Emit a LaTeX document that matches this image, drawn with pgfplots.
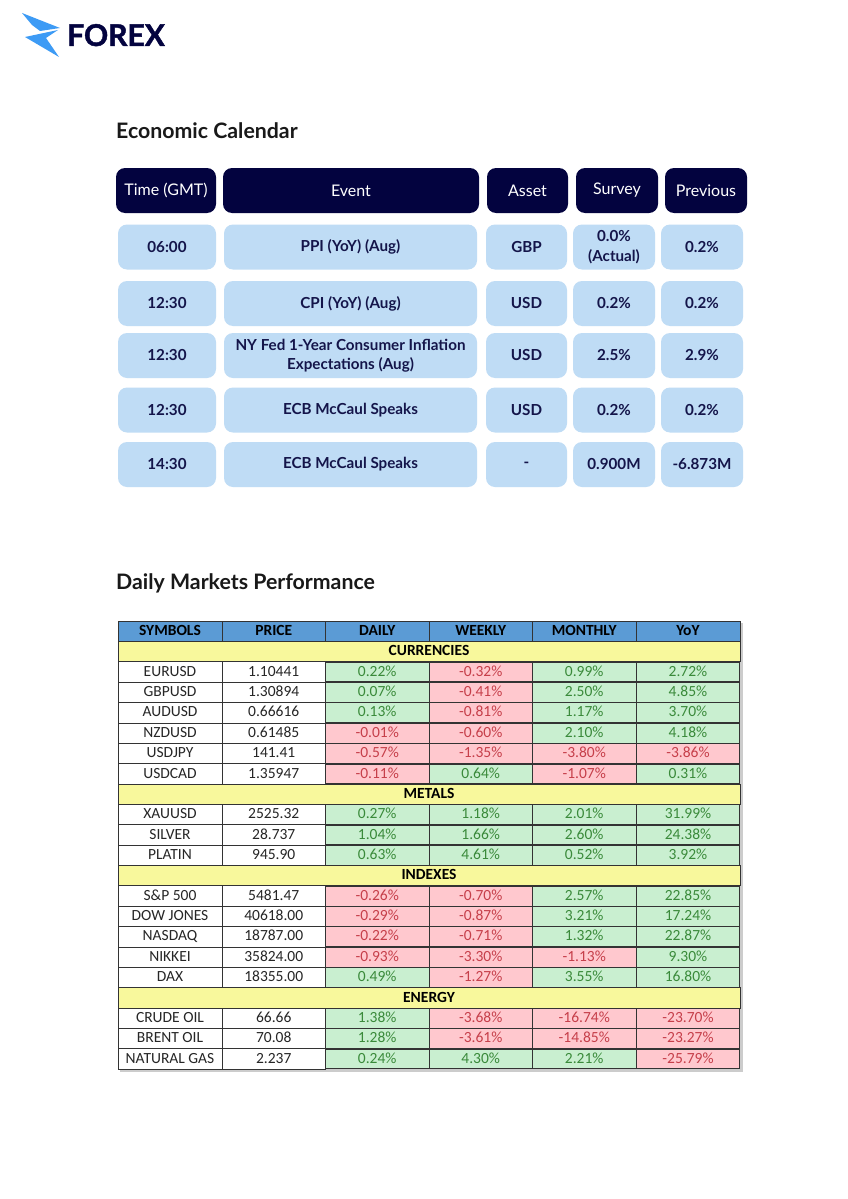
\documentclass[border=0pt]{standalone}
\usepackage{pgfplots}
\pgfplotsset{compat=1.18}
\usepackage{pgfplotstable}
\usepackage{fontspec}
\setmainfont{Lato}
\newfontfamily\calib{Carlito}
\newfontfamily\logofont[BoldFeatures={FakeBold=1.5}]{Lato}
\definecolor{navy}{HTML}{03033F}
\definecolor{navytext}{HTML}{14154A}
\definecolor{lblue}{HTML}{BFDCF5}
\definecolor{hblue}{HTML}{5B9BD5}
\definecolor{ysec}{HTML}{F8F89C}
\definecolor{gfill}{HTML}{C9EFD0}
\definecolor{gtext}{HTML}{3A8A3A}
\definecolor{rfill}{HTML}{FFC8CE}
\definecolor{rtext}{HTML}{C63F4A}
\definecolor{gridc}{HTML}{333333}
\definecolor{logoblue}{HTML}{3D9BF5}
\definecolor{cellt}{HTML}{262626}
\protected\def\SurveyA{0.0\%\\(Actual)}
\protected\def\NYFed{NY Fed 1-Year Consumer Inflation\\Expectations (Aug)}
% performance cell: coloured by sign
\setlength{\fboxsep}{0pt}
\setlength{\fboxrule}{0.6pt}
\protected\def\pcell#1{\ifdim#1pt<0pt
  \fcolorbox{gridc}{rfill}{\makebox[102.5pt][c]{\rule[-5.3pt]{0pt}{19.16pt}\textcolor{rtext}{#1\%}}}%
  \else
  \fcolorbox{gridc}{gfill}{\makebox[102.5pt][c]{\rule[-5.3pt]{0pt}{19.16pt}\textcolor{gtext}{#1\%}}}%
  \fi}

% Economic calendar, one table per column
\pgfplotstableread[col sep=comma]{
y,t
247,06:00
303.5,12:30
355.5,12:30
410,12:30
464.5,14:30
}\calT
\pgfplotstableread[col sep=comma]{
y,t
247,PPI (YoY) (Aug)
303.5,CPI (YoY) (Aug)
355.5,\NYFed
410,ECB McCaul Speaks
464.5,ECB McCaul Speaks
}\calE
\pgfplotstableread[col sep=comma]{
y,t
247,GBP
303.5,USD
355.5,USD
410,USD
464.5,-
}\calA
\pgfplotstableread[col sep=comma]{
y,t
247,\SurveyA
303.5,0.2\%
355.5,2.5\%
410,0.2\%
464.5,0.900M
}\calS
\pgfplotstableread[col sep=comma]{
y,t
247,0.2\%
303.5,0.2\%
355.5,2.9\%
410,0.2\%
464.5,-6.873M
}\calP

\pgfplotstableread[col sep=comma]{
x,t
170,SYMBOLS
273.75,PRICE
377.25,DAILY
480.75,WEEKLY
584.25,MONTHLY
688,YoY
}\perfhead

\pgfplotstableread[col sep=comma]{
r,t
1,CURRENCIES
8,METALS
12,INDEXES
18,ENERGY
}\perfsec

\pgfplotstableread[col sep=comma]{
r,s,p,d,w,m,yy
2,EURUSD,1.10441,0.22,-0.32,0.99,2.72
3,GBPUSD,1.30894,0.07,-0.41,2.50,4.85
4,AUDUSD,0.66616,0.13,-0.81,1.17,3.70
5,NZDUSD,0.61485,-0.01,-0.60,2.10,4.18
6,USDJPY,141.41,-0.57,-1.35,-3.80,-3.86
7,USDCAD,1.35947,-0.11,0.64,-1.07,0.31
9,XAUUSD,2525.32,0.27,1.18,2.01,31.99
10,SILVER,28.737,1.04,1.66,2.60,24.38
11,PLATIN,945.90,0.63,4.61,0.52,3.92
13,S\&P 500,5481.47,-0.26,-0.70,2.57,22.85
14,DOW JONES,40618.00,-0.29,-0.87,3.21,17.24
15,NASDAQ,18787.00,-0.22,-0.71,1.32,22.87
16,NIKKEI,35824.00,-0.93,-3.30,-1.13,9.30
17,DAX,18355.00,0.49,-1.27,3.55,16.80
19,CRUDE OIL,66.66,1.38,-3.68,-16.74,-23.70
20,BRENT OIL,70.08,1.28,-3.61,-14.85,-23.27
21,NATURAL GAS,2.237,0.24,4.30,2.21,-25.79
}\perf

\pgfplotsset{
  calhead/.style={draw=none, mark=none, nodes near coords, point meta=explicit symbolic,
    every node near coord/.append style={anchor=center, inner sep=0pt, fill=navy, text=white,
      rounded corners=9pt, minimum width=#1, minimum height=45pt,
      font=\fontsize{16}{18}\selectfont}},
  caldata/.style={draw=none, mark=none, nodes near coords, point meta=explicit symbolic,
    every node near coord/.append style={anchor=center, inner sep=0pt, fill=lblue, text=navytext,
      rounded corners=9pt, minimum width=#1, minimum height=45pt, align=center,
      font=\bfseries\fontsize{15.2}{19.5}\selectfont}},
  tcell/.style={draw=none, mark=none, nodes near coords, point meta=explicit symbolic,
    every node near coord/.append style={anchor=center, inner sep=0pt, minimum height=20.36pt,
      text height=14.46pt, text depth=5.9pt,
      draw=gridc, line width=0.6pt, font=\calib\fontsize{15.5}{17}\selectfont}},
  perfcell/.style={draw=none, mark=none, point meta=explicit symbolic,
    nodes near coords={\pcell{\pgfplotspointmeta}},
    every node near coord/.append style={anchor=center, inner sep=0pt, font=\calib\fontsize{15.5}{17}\selectfont}},
}

\begin{document}
\begin{tikzpicture}
\useasboundingbox (0,0) rectangle (848pt,1199pt);
\fill[white] (0,0) rectangle (848pt,1199pt);
\begin{axis}[
  at={(0,0)}, anchor=south west,
  scale only axis, width=848pt, height=1199pt,
  xmin=0, xmax=848, ymin=0, ymax=1199, y dir=reverse,
  hide axis, clip=false,
]
% logo
\fill[logoblue] (axis cs:22,13) -- (axis cs:60,28) -- (axis cs:40,31) -- (axis cs:32,25) -- cycle;
\fill[logoblue] (axis cs:25,37) -- (axis cs:58,30) -- (axis cs:46,38) -- (axis cs:59,57) -- cycle;
\node[anchor=base west, text=navy, font=\logofont\bfseries\fontsize{30}{32}\selectfont, inner sep=0pt] at (axis cs:67,46) {FOREX};
% titles
\node[anchor=base west, text=black!90, font=\bfseries\fontsize{21.3}{24}\selectfont, inner sep=0pt] at (axis cs:116,139) {Economic Calendar};
\node[anchor=base west, text=black!90, font=\bfseries\fontsize{21.3}{24}\selectfont, inner sep=0pt] at (axis cs:116,589) {Daily Markets Performance};

% calendar header
\addplot[calhead=100pt] coordinates {(166,190.5) [Time (GMT)]};
\addplot[calhead=256pt] coordinates {(351,190.5) [Event]};
\addplot[calhead=81pt] coordinates {(527.5,190.5) [Asset]};
\addplot[calhead=82pt] coordinates {(617,190.5) [Survey]};
\addplot[calhead=82pt] coordinates {(706,190.5) [Previous]};
% calendar data
\addplot[caldata=98pt] table[x expr=167, y=y, meta=t]{\calT};
\addplot[caldata=253pt] table[x expr=350.5, y=y, meta=t]{\calE};
\addplot[caldata=81pt] table[x expr=526.5, y=y, meta=t]{\calA};
\addplot[caldata=82pt] table[x expr=614, y=y, meta=t]{\calS};
\addplot[caldata=82pt] table[x expr=702, y=y, meta=t]{\calP};

% table shadow
\fill[black!20] (axis cs:120,623) rectangle (axis cs:742.5,1071.5);
% performance table
\addplot[tcell, every node near coord/.append style={fill=hblue, text=black, minimum width=103.7pt, font=\calib\bfseries\fontsize{15.5}{17}\selectfont}]
  table[x=x, y expr=631.18, meta=t]{\perfhead};
\addplot[tcell, every node near coord/.append style={fill=ysec, text=black, minimum width=622pt, font=\calib\bfseries\fontsize{15.5}{17}\selectfont}]
  table[x expr=429, y expr=621+20.364*(\thisrow{r}+0.5), meta=t]{\perfsec};
\addplot[tcell, every node near coord/.append style={fill=white, text=cellt, minimum width=103.7pt}]
  table[x expr=170, y expr=621+20.364*(\thisrow{r}+0.5), meta=s]{\perf};
\addplot[tcell, every node near coord/.append style={fill=white, text=cellt, minimum width=103.7pt}]
  table[x expr=273.75, y expr=621+20.364*(\thisrow{r}+0.5), meta=p]{\perf};
\addplot[perfcell] table[x expr=377.25, y expr=621+20.364*(\thisrow{r}+0.5), meta=d]{\perf};
\addplot[perfcell] table[x expr=480.75, y expr=621+20.364*(\thisrow{r}+0.5), meta=w]{\perf};
\addplot[perfcell] table[x expr=584.25, y expr=621+20.364*(\thisrow{r}+0.5), meta=m]{\perf};
\addplot[perfcell] table[x expr=688, y expr=621+20.364*(\thisrow{r}+0.5), meta=yy]{\perf};

% faint watermark
\fill[logoblue, opacity=0.08] (axis cs:235,712) -- (axis cs:600,840) -- (axis cs:430,858) -- (axis cs:340,800) -- cycle;
\fill[teal, opacity=0.07] (axis cs:260,905) -- (axis cs:585,845) -- (axis cs:470,905) -- (axis cs:600,1010) -- cycle;
\end{axis}
\end{tikzpicture}
\end{document}
